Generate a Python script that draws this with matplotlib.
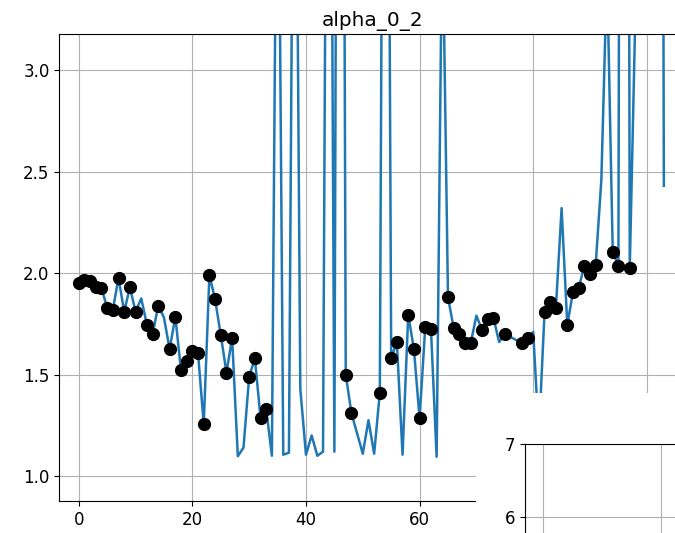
import numpy as np
import matplotlib
matplotlib.use('Agg')
import matplotlib.pyplot as plt
from matplotlib.patches import Rectangle

plt.rcParams['font.size'] = 12

# series values, one per step (values above ~3.2 run off the top of the view)
values = [1.95, 1.965, 1.96, 1.93, 1.925, 1.83, 1.82, 1.975, 1.81, 1.93,
          1.81, 1.875, 1.745, 1.70, 1.84, 1.78, 1.625, 1.785, 1.52, 1.565,
          1.615, 1.605, 1.255, 1.99, 1.87, 1.695, 1.51, 1.68, 1.098, 1.14,
          1.49, 1.58, 1.285, 1.33, 1.10, 4.8, 1.105, 1.115, 5.4, 1.43,
          1.105, 1.20, 1.10, 1.12, 6.8, 1.12, 10.0, 1.50, 1.31, 1.21,
          1.11, 1.275, 1.11, 1.41, 7.7, 1.58, 1.66, 1.105, 1.795, 1.625,
          1.285, 1.735, 1.725, 1.095, 3.8, 1.88, 1.73, 1.70, 1.655, 1.655,
          1.79, 1.72, 1.775, 1.78, 1.66, 1.70, 1.685, 1.67, 1.655, 1.68,
          1.71, 1.2, 1.81, 1.855, 1.83, 2.32, 1.745, 1.905, 1.925, 2.035,
          1.995, 2.04, 2.46, 3.5, 2.105, 2.035, 15.0, 2.025, 3.3, 4.5,
          5.0, 6.0, 14.0, 2.43]

# steps that carry a black dot
marked = [0, 1, 2, 3, 4, 5, 6, 7, 8, 9, 10, 12, 13, 14, 16, 17, 18, 19, 20,
          21, 22, 23, 24, 25, 26, 27, 30, 31, 32, 33, 47, 48, 53, 55, 56, 58,
          59, 60, 61, 62, 65, 66, 67, 68, 69, 71, 72, 73, 75, 78, 79, 82, 83,
          84, 86, 87, 88, 89, 90, 91, 94, 95, 97]

title = 'alpha_0_2'

x = np.arange(len(values))
y = np.array(values)

fig = plt.figure(figsize=(6.75, 5.33), dpi=100)

ax = fig.add_axes([0.0879, 0.060, 0.9284, 0.876])
ax.plot(x, y, color='C0', linewidth=1.8, zorder=2)
ax.plot(x[marked], y[marked], 'ko', markersize=8.5, zorder=3)
ax.set_xlim(-3.42, 106.9)
ax.set_ylim(0.877, 3.177)
ax.set_yticks([1.0, 1.5, 2.0, 2.5, 3.0])
ax.grid(True)
ax.set_title(title)

# white block left behind by the neighbouring subplot
fig.patches.append(Rectangle((0.705, 0.0), 0.3, 0.2627, transform=fig.transFigure,
                             facecolor='white', edgecolor='none', zorder=1))

# neighbouring subplot, mostly outside the picture
ax2 = fig.add_axes([0.7778, -0.709, 0.929, 0.876], zorder=2)
ax2.set_xlim(-3.1, 103.7)
ax2.set_ylim(0.6, 7.0)
ax2.grid(True)

fig.savefig('out.png', dpi=100)
